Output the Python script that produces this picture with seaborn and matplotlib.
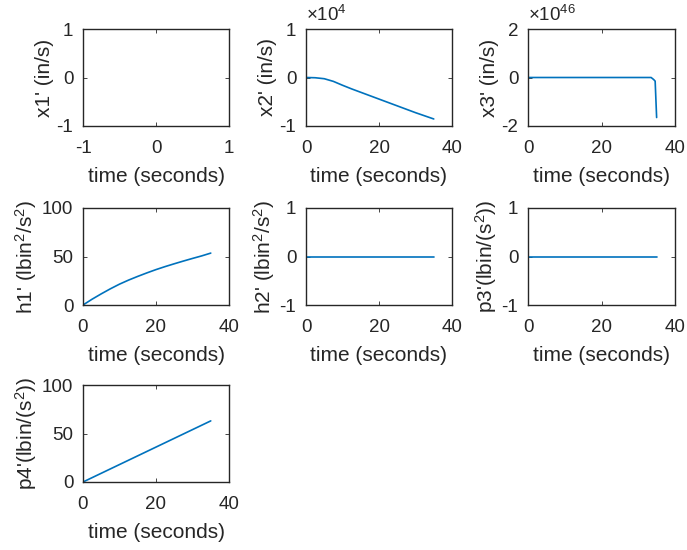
import matplotlib
matplotlib.use("Agg")
import matplotlib.pyplot as plt
import seaborn as sns
import pandas as pd

sns.set_style("white")
plt.rcParams['font.family'] = ['Liberation Sans', 'DejaVu Sans']
plt.rcParams['mathtext.fontset'] = 'custom'
plt.rcParams['mathtext.rm'] = 'Liberation Sans'
plt.rcParams['mathtext.it'] = 'Liberation Sans'

# ---- data ----
t_grid = [0, 2.5, 5, 7.5, 10, 12.5, 15, 17.5, 20, 22.5, 25, 27.5, 30, 32.5, 35]
x2_e4 = [0, -0.005, -0.025, -0.08, -0.16, -0.235, -0.305, -0.375, -0.445, -0.515,
         -0.585, -0.655, -0.725, -0.79, -0.855]
t_x3 = [0, 10, 20, 30, 33.5, 34.0, 34.3, 34.6, 35.0]
x3_e46 = [0, 0, 0, 0, 0, -0.06, -0.1, -0.15, -1.65]
h1 = [0, 6, 11.5, 16.7, 21.5, 25.7, 29.5, 33.1, 36.5, 39.6, 42.5, 45.3, 48, 50.6, 53.5]
h2 = [0] * 15
p3 = [0] * 15
p4 = [0, 4.5, 9, 13.5, 18, 22.5, 27, 31.5, 36, 40.5, 45, 49.5, 54, 58.5, 63]

ylabels = ["x1' (in/s)", "x2' (in/s)", "x3' (in/s)",
           "h1' (lbin$^2$/s$^2$)", "h2' (lbin$^2$/s$^2$)", "p3'(lbin/(s$^2$))",
           "p4'(lbin/(s$^2$))"]
xlabel = "time (seconds)"

W, H = 687, 550
fig = plt.figure(figsize=(W / 100, H / 100), dpi=100)

lefts = [83, 306, 528]
widths = [146, 146, 147]
tops = [29, 208, 385]
ah = 97

def mk(r, c):
    l = lefts[c]; tp = tops[r]
    return fig.add_axes([l / W, 1 - (tp + ah) / H, widths[c] / W, ah / H])

line_color = "#0072BD"
edge = "#262626"
FS_T = 13.5
FS_L = 15

def style(ax, xlim, xt, ylim, yt, ylab):
    ax.set_xlim(*xlim); ax.set_ylim(*ylim)
    ax.set_xticks(xt); ax.set_yticks(yt)
    ax.set_xticklabels([str(v) for v in xt], fontsize=FS_T, color=edge)
    ax.set_yticklabels([str(v) for v in yt], fontsize=FS_T, color=edge)
    ax.tick_params(direction='in', length=3, width=0.6, top=True, right=True,
                   bottom=True, left=True, colors=edge)
    ax.tick_params(axis='x', pad=10)
    ax.tick_params(axis='y', pad=7)
    for s in ax.spines.values():
        s.set_visible(True); s.set_color(edge); s.set_linewidth(1.0)
    ax.set_xlabel(xlabel, fontsize=FS_L, color=edge, labelpad=7)
    ax.set_ylabel(ylab, fontsize=FS_L, color=edge, labelpad=2)

def draw(ax, x, y):
    df = pd.DataFrame({"t": x, "y": y})
    sns.lineplot(data=df, x="t", y="y", ax=ax, color=line_color, linewidth=1.2)

# x1 (empty)
ax = mk(0, 0)
style(ax, (-1, 1), [-1, 0, 1], (-1, 1), [-1, 0, 1], ylabels[0])

# x2
ax = mk(0, 1)
draw(ax, t_grid, x2_e4)
style(ax, (0, 40), [0, 20, 40], (-1, 1), [-1, 0, 1], ylabels[1])
ax.text(0.0, 1.04, r"$\times10^{4}$", transform=ax.transAxes, fontsize=FS_T,
        color=edge, ha='left', va='bottom')

# x3
ax = mk(0, 2)
draw(ax, t_x3, x3_e46)
style(ax, (0, 40), [0, 20, 40], (-2, 2), [-2, 0, 2], ylabels[2])
ax.text(0.0, 1.04, r"$\times10^{46}$", transform=ax.transAxes, fontsize=FS_T,
        color=edge, ha='left', va='bottom')

# h1
ax = mk(1, 0)
draw(ax, t_grid, h1)
style(ax, (0, 40), [0, 20, 40], (0, 100), [0, 50, 100], ylabels[3])

# h2
ax = mk(1, 1)
draw(ax, t_grid, h2)
style(ax, (0, 40), [0, 20, 40], (-1, 1), [-1, 0, 1], ylabels[4])

# p3
ax = mk(1, 2)
draw(ax, t_grid, p3)
style(ax, (0, 40), [0, 20, 40], (-1, 1), [-1, 0, 1], ylabels[5])

# p4
ax = mk(2, 0)
draw(ax, t_grid, p4)
style(ax, (0, 40), [0, 20, 40], (0, 100), [0, 50, 100], ylabels[6])

fig.savefig("out.png", dpi=100, facecolor="white")
